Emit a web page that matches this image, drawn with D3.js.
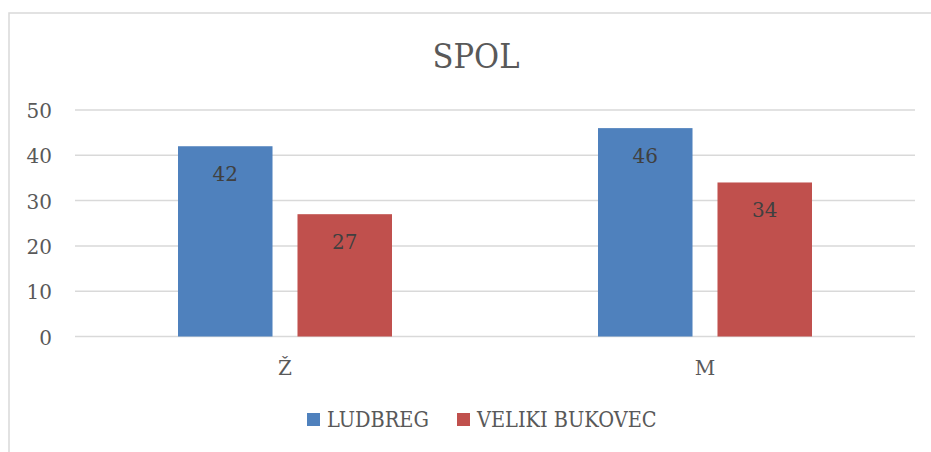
<!DOCTYPE html>
<html>
<head>
<meta charset="utf-8">
<script src="https://cdn.jsdelivr.net/npm/d3@7"></script>
<style>
  body { margin: 0; background: #fff; }
  text { font-family: "DejaVu Serif", "Liberation Serif", serif; }
</style>
</head>
<body>
<svg width="931" height="452"></svg>
<script>
var categories = ["Ž", "M"];
var series = ["LUDBREG", "VELIKI BUKOVEC"];
var ludbreg = [42, 46];
var velikiBukovec = [27, 34];
var yTicks = [0, 10, 20, 30, 40, 50];
var colors = ["#4F81BD", "#C0504D"];

var svg = d3.select("svg");

var rows = categories.map(function(c, i) {
  return { cat: c, values: [ludbreg[i], velikiBukovec[i]] };
});

// chart area frame (only top and left visible)
svg.append("path")
  .attr("d", "M9,455 L9,13 L935,13")
  .attr("fill", "none")
  .attr("stroke", "#d9d9d9")
  .attr("stroke-width", 1.5);

var x0 = d3.scaleBand().domain(categories).range([75, 915]).padding(0);
var x1 = d3.scaleBand().domain(series).range([0, x0.bandwidth()])
  .paddingInner(0.209).paddingOuter(0.862);
var y = d3.scaleLinear().domain([0, 50]).range([336.5, 110]);

// gridlines
svg.append("g").selectAll("line")
  .data(yTicks)
  .enter().append("line")
  .attr("x1", 75).attr("x2", 915)
  .attr("y1", function(d) { return y(d); })
  .attr("y2", function(d) { return y(d); })
  .attr("stroke", "#d9d9d9")
  .attr("stroke-width", 1.5);

// y tick labels
svg.append("g").selectAll("text")
  .data(yTicks)
  .enter().append("text")
  .attr("x", 52)
  .attr("y", function(d) { return y(d) + 8; })
  .attr("text-anchor", "end")
  .attr("font-size", 20)
  .attr("fill", "#595959")
  .text(function(d) { return d; });

// bars
var groups = svg.append("g").selectAll("g")
  .data(rows)
  .enter().append("g")
  .attr("transform", function(d) { return "translate(" + x0(d.cat) + ",0)"; });

groups.selectAll("rect")
  .data(function(d) { return d.values.map(function(v, i) { return { s: series[i], v: v, i: i }; }); })
  .enter().append("rect")
  .attr("x", function(d) { return x1(d.s); })
  .attr("y", function(d) { return y(d.v); })
  .attr("width", x1.bandwidth())
  .attr("height", function(d) { return y(0) - y(d.v); })
  .attr("fill", function(d) { return colors[d.i]; });

groups.selectAll("text")
  .data(function(d) { return d.values.map(function(v, i) { return { s: series[i], v: v }; }); })
  .enter().append("text")
  .attr("x", function(d) { return x1(d.s) + x1.bandwidth() / 2; })
  .attr("y", function(d) { return y(d.v) + 35; })
  .attr("text-anchor", "middle")
  .attr("font-size", 20)
  .attr("fill", "#404040")
  .text(function(d) { return d.v; });

// category labels
svg.append("g").selectAll("text")
  .data(categories)
  .enter().append("text")
  .attr("x", function(d) { return x0(d) + x0.bandwidth() / 2; })
  .attr("y", 375)
  .attr("text-anchor", "middle")
  .attr("font-size", 20)
  .attr("fill", "#595959")
  .text(function(d) { return d; });

// title
svg.append("text")
  .attr("x", 476)
  .attr("y", 68)
  .attr("text-anchor", "middle")
  .attr("font-size", 34)
  .style("font-stretch", "condensed")
  .attr("fill", "#595959")
  .text("SPOL");

// legend
var legendX = [307, 457];
var legend = svg.append("g").selectAll("g")
  .data(series)
  .enter().append("g")
  .attr("transform", function(d, i) { return "translate(" + legendX[i] + ",413)"; });

legend.append("rect")
  .attr("width", 13).attr("height", 13)
  .attr("fill", function(d, i) { return colors[i]; });

legend.append("text")
  .attr("x", 20)
  .attr("y", 14)
  .attr("font-size", 21.5)
  .style("font-stretch", "condensed")
  .attr("fill", "#595959")
  .text(function(d) { return d; });
</script>
</body>
</html>
